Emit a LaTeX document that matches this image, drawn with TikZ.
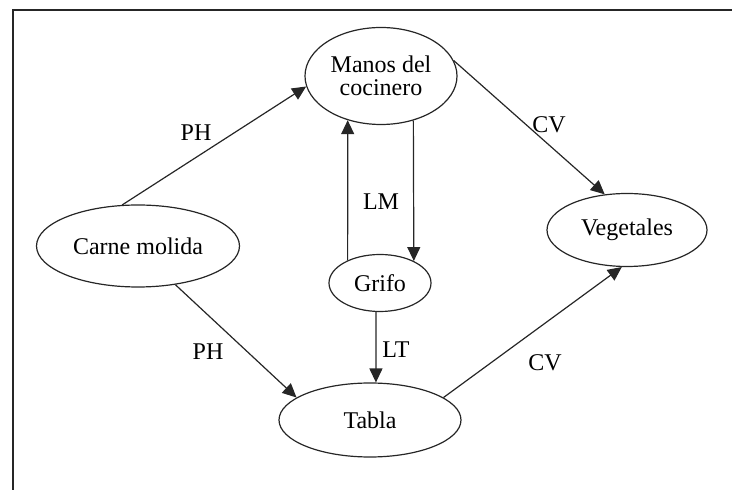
\documentclass[tikz,border=0pt]{standalone}
\usepackage{fontspec}
\setmainfont{Liberation Serif}
\usepackage{tikz}
\usetikzlibrary{shapes.geometric, arrows.meta, positioning}

\tikzset{
  lugar/.style={ellipse, draw=black!85, line width=0.6pt, inner sep=0pt, align=center,
    font=\fontsize{12}{11.5}\selectfont},
  flecha/.style={draw=black!85, line width=0.6pt, -{Triangle[length=7pt,width=6.5pt]}},
  etiqueta/.style={font=\fontsize{12}{12}\selectfont, inner sep=0pt}
}

\begin{document}
\begin{tikzpicture}[x=0.5pt, y=-0.5pt]
\useasboundingbox (0,0) rectangle (732,490);
% marco
\draw[line width=0.7pt, draw=black!85] (13,490) -- (13,10) -- (732,10);

% lugares
\node[lugar, minimum width=76pt, minimum height=48.5pt] (manos) at (381,76) {Manos del\\cocinero};
\node[lugar, minimum width=101.5pt, minimum height=41pt] (carne) at (138,246) {Carne molida};
\node[lugar, minimum width=51pt, minimum height=28.5pt] (grifo) at (380,283) {Grifo};
\node[lugar, minimum width=80pt, minimum height=36.5pt] (vegetales) at (627,230) {Vegetales};
\node[lugar, minimum width=91pt, minimum height=37pt] (tabla) at (370,420) {Tabla};

% conexiones
\draw[flecha] (carne.111) -- (manos.188);
\draw[flecha] (carne.314) -- (tabla.163);
\draw[flecha] (manos.12) -- (vegetales.122);
\draw[flecha] (tabla.17) -- (vegetales.262);
\draw[flecha] (grifo.145) -- (manos.233);
\draw[flecha] (manos.306) -- (grifo.33);
\draw[flecha] (grifo.262) -- (tabla.81);

% etiquetas
\node[etiqueta] (ph1) at (196,133) {PH};
\node[etiqueta] (ph2) at (208,352) {PH};
\node[etiqueta] (cv1) at (549,125) {CV};
\node[etiqueta] (cv2) at (545,363) {CV};
\node[etiqueta] (lm) at (381,202) {LM};
\node[etiqueta] (lt) at (396,350) {LT};
\end{tikzpicture}
\end{document}
